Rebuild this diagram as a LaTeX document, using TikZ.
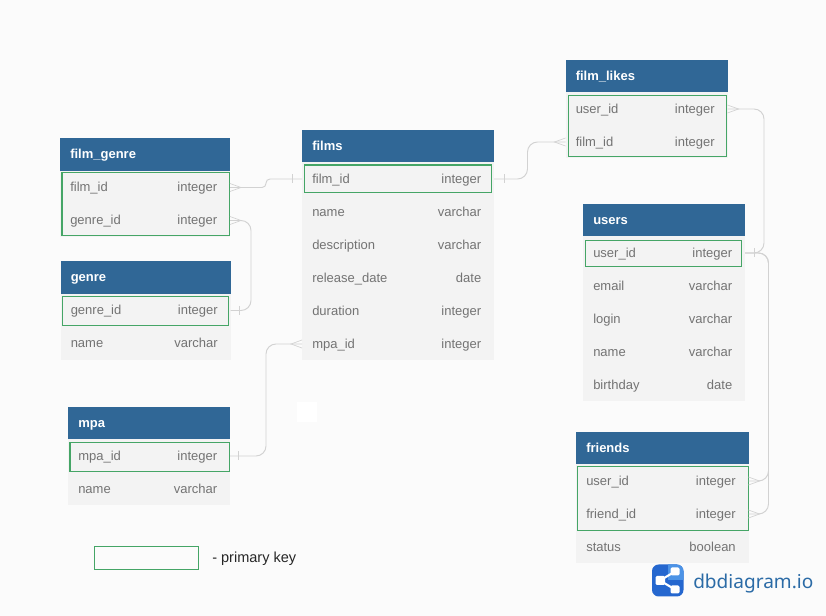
\documentclass[tikz,border=0pt]{standalone}
\usepackage{fontspec}
\setmainfont{Liberation Sans}
\newfontfamily\logofont{Noto Sans}
\usetikzlibrary{calc}
\definecolor{pagebg}{HTML}{FBFBFB}
\definecolor{hdrblue}{HTML}{306796}
\definecolor{rowgrey}{HTML}{F3F3F3}
\definecolor{pkgreen}{HTML}{45A566}
\definecolor{txtgrey}{HTML}{737373}
\definecolor{linegrey}{HTML}{D2D2D2}
\definecolor{logoblue}{HTML}{2B6BA6}
\definecolor{logodark}{HTML}{2567CF}
\definecolor{logolight}{HTML}{4C93E6}
\tikzset{
  x=0.75pt,y=-0.75pt,
  boxbase/.style={inner sep=0pt,outer sep=0pt,rectangle},
  hdrbox/.style={boxbase,fill=hdrblue},
  rowbox/.style={boxbase,fill=rowgrey},
  pkbox/.style={boxbase,draw=pkgreen,line width=0.9pt},
  hdrtxt/.style={inner sep=0pt,anchor=base west,font=\fontsize{9.75pt}{12pt}\selectfont\bfseries,text=white},
  lefttxt/.style={inner sep=0pt,anchor=base west,font=\fontsize{9.75pt}{12pt}\selectfont,text=txtgrey},
  righttxt/.style={inner sep=0pt,anchor=base east,font=\fontsize{9.75pt}{12pt}\selectfont,text=txtgrey},
  conn/.style={draw=linegrey,line width=0.7pt,rounded corners=7.5pt},
  conn small/.style={draw=linegrey,line width=0.7pt,rounded corners=3pt},
  mark line/.style={draw=linegrey,line width=0.5pt},
}
% id, x1, x2, top, bottom, title
\newcommand\dbhead[6]{%
  \node[hdrbox,minimum width={(#3-#2)*0.75pt},minimum height={(#5-#4)*0.75pt}] (#1) at ({(#2+#3)/2},{(#4+#5)/2}) {};
  \node[hdrtxt] (#1t) at ({#2+10},{(#4+#5)/2+4}) {#6};
}
% id, x1, x2, yc, name, type
\newcommand\dbrow[6]{%
  \node[rowbox,minimum width={(#3-#2)*0.75pt},minimum height={33*0.75pt}] (#1) at ({(#2+#3)/2},#4) {};
  \node[lefttxt] (#1n) at ({#2+10},{#4+4.5}) {#5};
  \node[righttxt] (#1k) at ({#3-12.5},{#4+4.5}) {#6};
}
% id, x1, x2, top, bottom
\newcommand\dbpk[5]{%
  \node[pkbox,minimum width={(#3-#2)*0.75pt},minimum height={(#5-#4)*0.75pt}] (#1) at ({(#2+#3)/2},{(#4+#5)/2}) {};
}
% anchor point, direction (+1 right, -1 left)
\newcommand\crow[2]{%
  \draw[mark line] ([shift={(0,-4)}]#1) -- ([shift={(#2*11,0)}]#1) -- ([shift={(0,4)}]#1);
}
% anchor point, signed distance
\newcommand\tick[2]{%
  \draw[mark line] ([shift={(#2,-4.5)}]#1) -- ([shift={(#2,4.5)}]#1);
}
\begin{document}
\begin{tikzpicture}
\useasboundingbox (0,0) rectangle (826,616);
\fill[pagebg] (0,0) rectangle (826,616);
\fill[white] (297,402) rectangle (317,422);

% film_genre
\dbhead{fgh}{60}{230}{138}{171}{film\_genre}
\dbrow{fgf}{60}{230}{187.5}{film\_id}{integer}
\dbrow{fgg}{60}{230}{220.5}{genre\_id}{integer}
\dbpk{fgp}{62}{229.5}{172.5}{235.5}
% genre
\dbhead{geh}{60.5}{230.5}{261.5}{294.5}{genre}
\dbrow{geg}{60.5}{230.5}{310.5}{genre\_id}{integer}
\dbrow{gen}{60.5}{230.5}{343.5}{name}{varchar}
\dbpk{gep}{62.5}{228.5}{296.5}{325.5}
% films
\dbhead{fih}{302}{494}{130}{163}{films}
\dbrow{fii}{302}{494}{179}{film\_id}{integer}
\dbrow{fin}{302}{494}{212}{name}{varchar}
\dbrow{fid}{302}{494}{245}{description}{varchar}
\dbrow{fir}{302}{494}{278}{release\_date}{date}
\dbrow{fiu}{302}{494}{311}{duration}{integer}
\dbrow{fim}{302}{494}{344}{mpa\_id}{integer}
\dbpk{fip}{304.5}{491.5}{165}{192.5}
% film_likes
\dbhead{flh}{565.5}{727.5}{60}{93}{film\_likes}
\dbrow{flu}{565.5}{727.5}{109}{user\_id}{integer}
\dbrow{flf}{565.5}{727.5}{142}{film\_id}{integer}
\dbpk{flp}{568.5}{726.5}{95.5}{156.5}
% users
\dbhead{ush}{583}{745}{204}{237}{users}
\dbrow{usi}{583}{745}{253}{user\_id}{integer}
\dbrow{use}{583}{745}{286}{email}{varchar}
\dbrow{usl}{583}{745}{319}{login}{varchar}
\dbrow{usn}{583}{745}{352}{name}{varchar}
\dbrow{usb}{583}{745}{385}{birthday}{date}
\dbpk{usp}{585.5}{741.5}{240.5}{266.5}
% friends
\dbhead{frh}{576}{748.5}{432}{465}{friends}
\dbrow{fru}{576}{748.5}{481}{user\_id}{integer}
\dbrow{frf}{576}{748.5}{514}{friend\_id}{integer}
\dbrow{frs}{576}{748.5}{547}{status}{boolean}
\dbpk{frp}{577.5}{748.5}{466.5}{530.5}
% mpa
\dbhead{mph}{68}{230}{407}{440}{mpa}
\dbrow{mpi}{68}{230}{456}{mpa\_id}{integer}
\dbrow{mpn}{68}{230}{489}{name}{varchar}
\dbpk{mpp}{70}{229.5}{442.5}{471.5}

% connectors
\draw[conn small] (fgf.east) -| ([shift={(-36,0)}]fii.west) -- (fii.west);
\crow{fgf.east}{1}
\tick{fii.west}{-10}

\draw[conn] (fgg.east) -- ++(21,0) |- (geg.east);
\crow{fgg.east}{1}
\tick{geg.east}{9}

\draw[conn] (mpi.east) -| ([shift={(-36,0)}]fim.west) -- (fim.west);
\crow{fim.west}{-1}
\tick{mpi.east}{8}

\draw[conn] (fii.east) -| ([shift={(-38,0)}]flf.west) -- (flf.west);
\crow{flf.west}{-1}
\tick{fii.east}{10}

\draw[conn] (flu.east) -| ([shift={(19,0)}]usi.east) -- (usi.east);
\crow{flu.east}{1}
\tick{usi.east}{9}

\draw[conn] (usi.east) -| ([shift={(20,0)}]fru.east) -- (fru.east);
\draw[conn] (usi.east) -| ([shift={(20,0)}]frf.east) -- (frf.east);
\crow{fru.east}{1}
\crow{frf.east}{1}

% legend
\node[pkbox,minimum width={104*0.75pt},minimum height={23*0.75pt}] (legendbox) at (146.5,558) {};
\node[inner sep=0pt,anchor=base west,font=\fontsize{10.9pt}{13pt}\selectfont,text=black!85] (legendtxt) at (212,563) {- primary key};

% logo
\fill[logodark,rounded corners=5pt] (652,564.5) rectangle (683.5,596.5);
\begin{scope}
\clip[rounded corners=5pt] (652,564.5) rectangle (683.5,596.5);
\fill[logolight] (668,564.5) rectangle (683.5,580);
\end{scope}
\draw[white,line width=1.6pt] (675,571.5) -- (660,580.5) -- (675,589.5);
\fill[white,rounded corners=1pt] (655.5,576) rectangle (665,585);
\fill[white,rounded corners=1pt] (670.5,567.5) rectangle (679.5,575.5);
\fill[white,rounded corners=1pt] (670.5,585.5) rectangle (679.5,593.5);
\node[inner sep=0pt,anchor=base west,font=\logofont\fontsize{14.3pt}{18pt}\selectfont,text=logoblue] (logotxt) at (693,588.5) {dbdiagram.io};
\end{tikzpicture}
\end{document}
